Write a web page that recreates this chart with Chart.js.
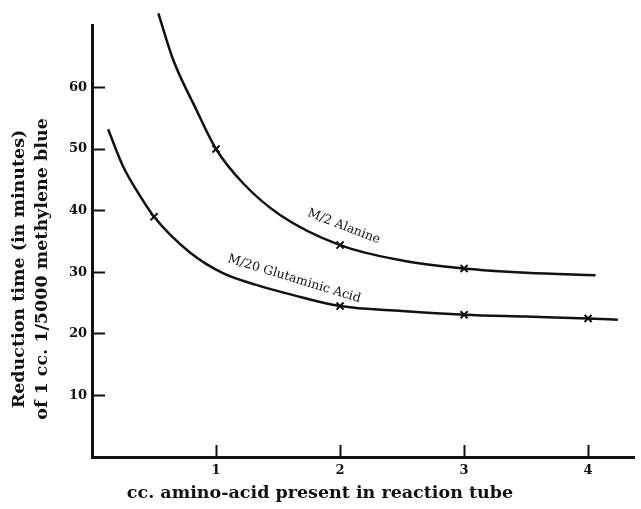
<!DOCTYPE html>
<html>
<head>
<meta charset="utf-8">
<script src="https://cdn.jsdelivr.net/npm/chart.js@4.4.1/dist/chart.umd.min.js"></script>
<style>
  html, body { margin: 0; padding: 0; background: #fff; }
  canvas { display: block; }
</style>
</head>
<body>
<canvas id="reductionChart" width="641" height="509"></canvas>
<script>
// smooth curves
const alanineX = [0.535, 0.656, 0.831, 1.0, 1.22, 1.516, 2.0, 2.5, 3.0, 3.5, 4.06];
const alanineY = [72.0, 64.4, 56.8, 50.0, 44.4, 39.3, 34.4, 31.9, 30.6, 29.9, 29.5];
const glutamicX = [0.13, 0.25, 0.39, 0.5, 0.79, 1.06, 1.33, 1.6, 2.0, 2.5, 3.0, 3.5, 4.0, 4.24];
const glutamicY = [53.2, 47.2, 42.3, 39.0, 33.2, 29.8, 27.9, 26.4, 24.5, 23.7, 23.1, 22.8, 22.5, 22.3];

// measured points (x marks)
const alanineMarkX = [1, 2, 3];
const alanineMarkY = [50, 34.4, 30.6];
const glutamicMarkX = [0.5, 2, 3, 4];
const glutamicMarkY = [39.0, 24.5, 23.1, 22.5];

const xTicks = [1, 2, 3, 4];
const yTicks = [10, 20, 30, 40, 50, 60];

const xTitle = 'cc. amino-acid present in reaction tube';
const yTitle = ['Reduction time (in minutes)', 'of 1 cc. 1/5000 methylene blue'];

const curveLabels = [
  { text: 'M/2 Alanine', x: 2.03, y: 37.4, angle: 21 },
  { text: 'M/20 Glutaminic Acid', x: 1.63, y: 28.9, angle: 17 },
];

const INK = '#111';
const serif = '"DejaVu Serif", "Liberation Serif", serif';

function toPoints(xs, ys) {
  return xs.map((x, i) => ({ x: x, y: ys[i] }));
}

const textPlugin = {
  id: 'textPlugin',
  afterDraw(chart) {
    const ctx = chart.ctx;
    const xs = chart.scales.x;
    const ys = chart.scales.y;
    ctx.save();
    ctx.fillStyle = INK;
    ctx.textAlign = 'center';
    ctx.textBaseline = 'middle';

    ctx.font = 'bold 17.5px ' + serif;
    ctx.fillText(xTitle, 320, 493);

    ctx.save();
    ctx.translate(19, 269);
    ctx.rotate(-Math.PI / 2);
    ctx.fillText(yTitle[0], 0, 0);
    ctx.fillText(yTitle[1], 0, 23);
    ctx.restore();

    ctx.font = '12.5px ' + serif;
    curveLabels.forEach((lab) => {
      ctx.save();
      ctx.translate(xs.getPixelForValue(lab.x), ys.getPixelForValue(lab.y));
      ctx.rotate((lab.angle * Math.PI) / 180);
      ctx.fillText(lab.text, 0, 0);
      ctx.restore();
    });
    ctx.restore();
  },
};

const curveStyle = {
  showLine: true,
  pointRadius: 0,
  borderColor: INK,
  borderWidth: 2.5,
  cubicInterpolationMode: 'monotone',
  clip: false,
};

const markStyle = {
  showLine: false,
  pointStyle: 'crossRot',
  pointRadius: 5,
  borderWidth: 2,
  borderColor: INK,
  clip: false,
};

new Chart(document.getElementById('reductionChart').getContext('2d'), {
  type: 'scatter',
  data: {
    datasets: [
      Object.assign({ label: 'M/2 Alanine', data: toPoints(alanineX, alanineY) }, curveStyle),
      Object.assign({ label: 'M/20 Glutaminic Acid', data: toPoints(glutamicX, glutamicY) }, curveStyle),
      Object.assign({ label: 'Alanine points', data: toPoints(alanineMarkX, alanineMarkY) }, markStyle),
      Object.assign({ label: 'Glutaminic points', data: toPoints(glutamicMarkX, glutamicMarkY) }, markStyle),
    ],
  },
  options: {
    responsive: false,
    animation: false,
    layout: { padding: { top: 25, right: 0, bottom: 0, left: 0 } },
    plugins: {
      legend: { display: false },
      tooltip: { enabled: false },
    },
    scales: {
      x: {
        type: 'linear',
        min: 0,
        max: 4.37,
        afterFit: (s) => { s.height = 52; },
        afterBuildTicks: (s) => { s.ticks = xTicks.map((v) => ({ value: v })); },
        grid: { drawOnChartArea: false, tickLength: -12, tickWidth: 2, tickColor: INK },
        border: { color: INK, width: 3 },
        ticks: { padding: 18, color: INK, maxRotation: 0, font: { family: serif, weight: 'bold', size: 13 } },
      },
      y: {
        type: 'linear',
        min: 0,
        max: 70,
        afterFit: (s) => { s.width = 92; },
        afterBuildTicks: (s) => { s.ticks = yTicks.map((v) => ({ value: v })); },
        grid: { drawOnChartArea: false, tickLength: -13, tickWidth: 2, tickColor: INK },
        border: { color: INK, width: 3 },
        ticks: { padding: 18, color: INK, font: { family: serif, weight: 'bold', size: 13 } },
      },
    },
  },
  plugins: [textPlugin],
});
</script>
</body>
</html>
